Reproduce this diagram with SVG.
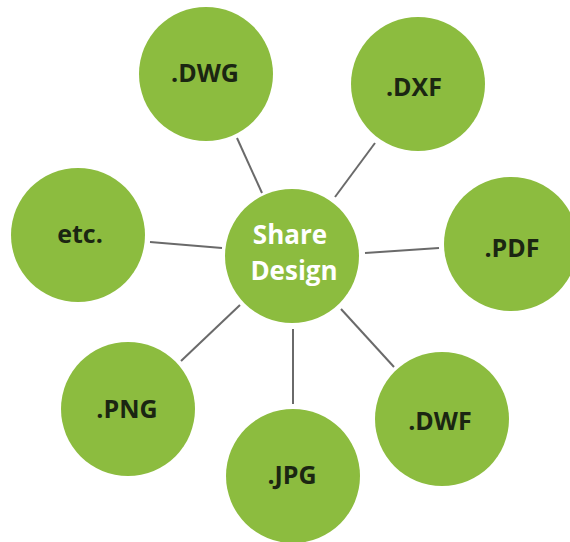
<svg xmlns="http://www.w3.org/2000/svg" width="570" height="542" viewBox="0 0 570 542">
<style>
.n{fill:#8cbc3f}
.t{font-family:"Open Sans","Liberation Sans",sans-serif;font-weight:bold;font-size:25px;fill:#1b2612;text-anchor:middle}
.c{font-family:"Open Sans","Liberation Sans",sans-serif;font-weight:bold;font-size:26px;fill:#ffffff;text-anchor:middle}
.e{stroke:#6a6a6a;stroke-width:2;fill:none}
</style>
<rect width="570" height="542" fill="#ffffff"/>
<g id="connectors">
<line class="e" x1="237" y1="138" x2="262" y2="193"/>
<line class="e" x1="375" y1="143" x2="335" y2="197"/>
<line class="e" x1="150" y1="242" x2="222" y2="248"/>
<line class="e" x1="365" y1="253" x2="439" y2="248"/>
<line class="e" x1="240" y1="305" x2="181" y2="361"/>
<line class="e" x1="293" y1="329" x2="293" y2="404"/>
<line class="e" x1="341" y1="309" x2="394" y2="367"/>
</g>
<g id="center"><circle class="n" cx="292" cy="256" r="67"/><text class="c" x="290" y="244">Share</text><text class="c" x="294" y="280">Design</text></g>
<g id="dwg"><circle class="n" cx="206" cy="74" r="67"/><text class="t" x="205" y="82">.DWG</text></g>
<g id="dxf"><circle class="n" cx="418" cy="84" r="67"/><text class="t" x="414" y="96">.DXF</text></g>
<g id="etc"><circle class="n" cx="78" cy="235" r="67"/><text class="t" x="80" y="243">etc.</text></g>
<g id="pdf"><circle class="n" cx="511" cy="244" r="67"/><text class="t" x="512" y="257">.PDF</text></g>
<g id="png"><circle class="n" cx="128" cy="409" r="67"/><text class="t" x="127" y="418">.PNG</text></g>
<g id="jpg"><circle class="n" cx="293" cy="476" r="67"/><text class="t" x="292" y="484">.JPG</text></g>
<g id="dwf"><circle class="n" cx="442" cy="419" r="67"/><text class="t" x="440" y="430">.DWF</text></g>
</svg>
